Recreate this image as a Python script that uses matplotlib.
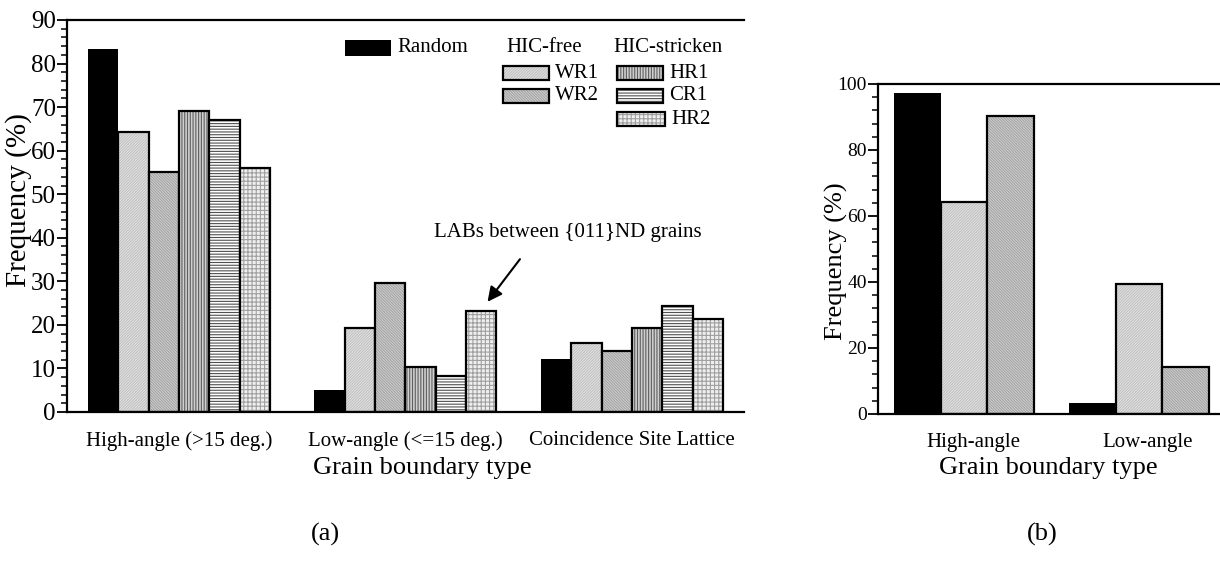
import numpy as np
import matplotlib.pyplot as plt
from matplotlib.patches import Rectangle
from matplotlib.ticker import MultipleLocator

plt.rcParams['font.family'] = ['Liberation Serif', 'DejaVu Serif']
plt.rcParams['hatch.linewidth'] = 0.8

# ---- data (a) ----
groups_a = ['High-angle (>15 deg.)', 'Low-angle (<=15 deg.)', 'Coincidence Site Lattice']
series_a = ['Random', 'WR1', 'WR2', 'HR1', 'CR1', 'HR2']
random_a = [83.3, 5.0, 12.1]
wr1_a = [64.3, 19.2, 15.9]
wr2_a = [55.2, 29.7, 14.0]
hr1_a = [69.2, 10.4, 19.2]
cr1_a = [67.0, 8.3, 24.4]
hr2_a = [56.1, 23.3, 21.3]

# ---- data (b) ----
groups_b = ['High-angle', 'Low-angle']
random_b = [97.4, 3.4]
wr1_b = [64.3, 39.3]
wr2_b = [90.4, 14.2]

# bar styles: face colour, hatch, hatch colour
styles = {
    'Random': ('black', None, 'black'),
    'WR1': ('#e6e6e6', '////////////', '#c0c0c0'),
    'WR2': ('#d2d2d2', '\\\\\\\\\\\\\\\\\\\\\\\\', '#a4a4a4'),
    'HR1': ('#cfcfcf', '||||||', '#5e5e5e'),
    'CR1': ('white', '------', '#505050'),
    'HR2': ('#efefef', '++++', '#a0a0a0'),
}

W, H = 1220, 562
fig = plt.figure(figsize=(W / 100, H / 100), dpi=100)


def px_axes(l, t, r, b):
    return fig.add_axes([l / W, 1 - b / H, (r - l) / W, (b - t) / H])


def draw_bar(ax, x, h, name, width=1.0):
    face, hatch, hcol = styles[name]
    if name == 'Random':
        ax.bar(x, h, width, align='edge', color='black', edgecolor='black', linewidth=0)
        return
    ax.bar(x, h, width, align='edge', color=face, edgecolor=hcol, hatch=hatch, linewidth=0)
    ax.bar(x, h, width, align='edge', fill=False, edgecolor='black', linewidth=1.6)


def style_axis(ax, ysize):
    for s in ['left', 'top', 'bottom']:
        ax.spines[s].set_linewidth(1.6)
    ax.spines['right'].set_visible(False)
    ax.tick_params(axis='y', which='major', direction='out', length=7, width=1.3,
                   labelsize=ysize, pad=1)
    ax.tick_params(axis='y', which='minor', direction='out', length=4, width=1.1)
    ax.tick_params(axis='x', length=0, labelsize=15, pad=14)


# ================= panel (a) =================
ax = px_axes(67, 20, 744, 412)
vals_a = [random_a, wr1_a, wr2_a, hr1_a, cr1_a, hr2_a]
group_step = 7.47
starts_a = np.arange(len(groups_a)) * group_step
for gi, g0 in enumerate(starts_a):
    for si, name in enumerate(series_a):
        draw_bar(ax, g0 + si, vals_a[si][gi], name)
ax.set_xlim(-0.69, -0.69 + 677 / 30.33)
ax.set_ylim(0, 90)
ax.yaxis.set_major_locator(MultipleLocator(10))
ax.yaxis.set_minor_locator(MultipleLocator(2))
ax.set_xticks(starts_a + 3)
ax.set_xticklabels(groups_a)
style_axis(ax, 18)
ax.set_ylabel('Frequency (%)', fontsize=21)
ax.yaxis.set_label_coords(-0.051, 0.54)
ax.set_xlabel('Grain boundary type', fontsize=19, va='top')
ax.xaxis.set_label_coords((422 - 67) / 677, -0.115)

# annotation
ax.annotate('', xy=(13.12, 24.8), xytext=(14.3, 35.6),
            arrowprops=dict(arrowstyle='-|>', color='black', lw=1.5, mutation_scale=22))
ax.text(15.83, 41.1, 'LABs between {011}ND grains', fontsize=15, ha='center', va='center')


# legend drawn by hand
def leg_patch(x0, yc, name, w=46, h=14):
    face, hatch, hcol = styles[name]
    tr = fig.transFigure
    xy = (x0 / W, 1 - (yc + h / 2) / H)
    if name == 'Random':
        fig.patches.append(Rectangle(xy, w / W, h / H, facecolor='black',
                                     edgecolor='black', lw=0, transform=tr))
    else:
        fig.patches.append(Rectangle(xy, w / W, h / H, facecolor=face, edgecolor=hcol,
                                     hatch=hatch, lw=0, transform=tr))
        fig.patches.append(Rectangle(xy, w / W, h / H, fill=False, edgecolor='black',
                                     lw=1.6, transform=tr))
    fig.text((x0 + w + 6) / W, 1 - yc / H, name, fontsize=15, ha='left', va='center')


leg_patch(345, 48, 'Random', h=16)
fig.text(506 / W, 1 - 48 / H, 'HIC-free', fontsize=15, ha='left', va='center')
fig.text(613 / W, 1 - 48 / H, 'HIC-stricken', fontsize=15, ha='left', va='center')
leg_patch(503, 73, 'WR1')
leg_patch(503, 96, 'WR2')
leg_patch(617, 73, 'HR1')
leg_patch(617, 96, 'CR1')
leg_patch(617, 119, 'HR2', w=48)

# ================= panel (b) =================
bx = px_axes(878, 84, 1245, 414)
vals_b = [random_b, wr1_b, wr2_b]
bw = 46.5
starts_b = np.arange(len(groups_b)) * (175 / bw)
for gi, g0 in enumerate(starts_b):
    for si, name in enumerate(['Random', 'WR1', 'WR2']):
        draw_bar(bx, g0 + si, vals_b[si][gi], name)
bx.set_xlim(-16 / bw, -16 / bw + 367 / bw)
bx.set_ylim(0, 100)
bx.yaxis.set_major_locator(MultipleLocator(20))
bx.yaxis.set_minor_locator(MultipleLocator(4))
bx.set_xticks(starts_b + 1.7)
bx.set_xticklabels(groups_b)
style_axis(bx, 14)
bx.set_ylabel('Frequency (%)', fontsize=19)
bx.yaxis.set_label_coords(-30 / 367, 0.464)
bx.set_xlabel('Grain boundary type', fontsize=19, va='top')
bx.xaxis.set_label_coords((1048 - 878) / 367, -0.130)

fig.text(325 / W, 1 - 534 / H, '(a)', fontsize=19, ha='center', va='center')
fig.text(1042 / W, 1 - 534 / H, '(b)', fontsize=19, ha='center', va='center')

fig.savefig('out.png', dpi=100)
